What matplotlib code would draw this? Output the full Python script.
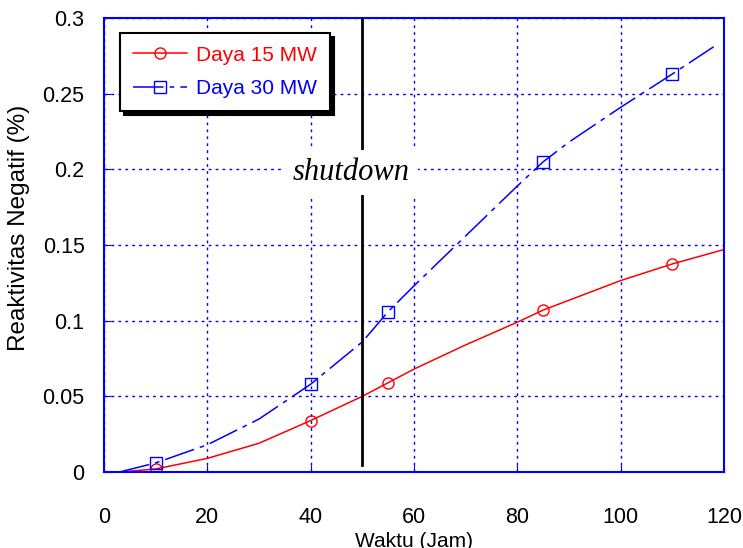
import matplotlib.pyplot as plt

# waktu (jam) dan reaktivitas negatif (%)
waktu_15 = [3, 10, 20, 30, 40, 50, 55, 60, 70, 80, 85, 90, 100, 110, 120]
reak_15 = [0.0, 0.002, 0.009, 0.019, 0.034, 0.050, 0.059, 0.068, 0.084,
           0.099, 0.107, 0.1135, 0.1265, 0.1375, 0.147]

waktu_30 = [3, 10, 20, 30, 40, 50, 55, 60, 70, 80, 85, 90, 100, 110, 118]
reak_30 = [0.0, 0.006, 0.018, 0.035, 0.058, 0.086, 0.106, 0.123, 0.156,
           0.189, 0.205, 0.218, 0.241, 0.263, 0.281]

# indeks titik bertanda (x = 10, 40, 55, 85, 110)
titik = [1, 4, 6, 10, 13]

shutdown_x = 50
xticks = [0, 20, 40, 60, 80, 100, 120]
yticks = [0, 0.05, 0.1, 0.15, 0.2, 0.25, 0.3]
ytick_labels = ['0', '0.05', '0.1', '0.15', '0.2', '0.25', '0.3']

plt.rcParams['font.family'] = ['Liberation Sans', 'DejaVu Sans']

fig = plt.figure(figsize=(7.43, 5.48), dpi=100)
ax = fig.add_axes([0.14, 0.1387, 0.8344, 0.8284])

ax.plot(waktu_15, reak_15, color='red', lw=1.1, marker='o', markevery=titik,
        ms=8, mfc='none', mec='red', mew=1, label='Daya 15 MW')
ax.plot(waktu_30, reak_30, color='blue', lw=1.1, dashes=(20, 4, 3, 4),
        marker='s', markevery=titik, ms=8, mfc='none', mec='blue', mew=1,
        label='Daya 30 MW')

ax.plot([shutdown_x, shutdown_x], [0.0045, 0.3], color='black', lw=2, zorder=3)
ax.text(47.8, 0.198, 'shutdown', family='Liberation Serif', style='italic',
        fontsize=22, ha='center', va='center', zorder=4,
        bbox=dict(facecolor='white', edgecolor='none', pad=6))

ax.set_xlim(0, 120)
ax.set_ylim(0, 0.3)
ax.set_xticks(xticks)
ax.set_yticks(yticks)
ax.set_yticklabels(ytick_labels)
ax.grid(True, color='blue', linestyle=(0, (2, 3)), lw=1)
ax.tick_params(direction='in', color='blue', length=5, labelsize=15.5)
ax.tick_params(axis='x', pad=25)
ax.tick_params(axis='y', pad=14)
for s in ax.spines.values():
    s.set_color('blue')
    s.set_linewidth(1.5)

ax.set_xlabel('Waktu (Jam)', fontsize=15, labelpad=3)
ax.set_ylabel('Reaktivitas Negatif (%)', fontsize=17.5)
ax.yaxis.set_label_coords(-0.12, 0.537)

leg = ax.legend(loc='upper left', bbox_to_anchor=(0.026, 0.967), borderaxespad=0,
                numpoints=1, fancybox=False, shadow={'color': 'black', 'alpha': 1, 'ox': 3, 'oy': -3},
                edgecolor='black', framealpha=1, fontsize=15, handlelength=2.6,
                handletextpad=0.45, labelspacing=0.7, borderpad=0.6)
leg.get_frame().set_linewidth(1.5)
for t, c in zip(leg.get_texts(), ['red', 'blue']):
    t.set_color(c)

fig.savefig('out.png', dpi=100)
